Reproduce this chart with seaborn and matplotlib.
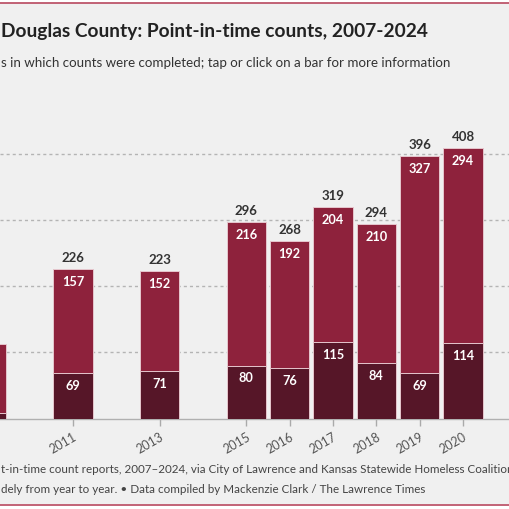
import matplotlib
matplotlib.use("Agg")
import matplotlib.pyplot as plt
import seaborn as sns
import pandas as pd
from matplotlib.patches import Rectangle
from matplotlib.lines import Line2D

# ---- data ----
years = [2009, 2011, 2013, 2015, 2016, 2017, 2018, 2019, 2020]
lower_counts = [8, 69, 71, 80, 76, 115, 84, 69, 114]
upper_counts = [104, 157, 152, 216, 192, 204, 210, 327, 294]
totals = [a + b for a, b in zip(lower_counts, upper_counts)]
tick_years = years

title_text = "Douglas County: Point-in-time counts, 2007-2024"
subtitle_text = "s in which counts were completed; tap or click on a bar for more information"
footer1 = "t-in-time count reports, 2007\u20132024, via City of Lawrence and Kansas Statewide Homeless Coalition"
footer2 = "dely from year to year. \u2022 Data compiled by Mackenzie Clark / The Lawrence Times"

df = pd.DataFrame({"year": years, "lower": lower_counts, "upper": upper_counts, "total": totals})

sns.set_theme(style="white")
FONT = ["Lato", "DejaVu Sans"]
plt.rcParams["font.family"] = FONT

W = H = 510
fig = plt.figure(figsize=(5.1, 5.1), dpi=100)
fig.patch.set_facecolor("white")

BG = "#f0f0f0"
UPPER = "#8e223c"
LOWER = "#561628"
EDGE = "#e6c6cd"
BORDER = "#b8485f"

# background panel and border lines
fig.patches.append(Rectangle((0, 1 - 505 / H), 1, (505 - 4) / H, transform=fig.transFigure,
                             facecolor=BG, edgecolor="none", zorder=-5))
fig.lines.append(Line2D([0, 1], [1 - 4 / H, 1 - 4 / H], transform=fig.transFigure, color=BORDER, lw=1.2, zorder=-4))
fig.lines.append(Line2D([0, 1], [1 - 505.5 / H, 1 - 505.5 / H], transform=fig.transFigure, color=BORDER, lw=1.2, zorder=-4))

# axes geometry (pixels)
px_per_year = 43.33
x0 = 2011 - 73 / px_per_year
x1 = x0 + W / px_per_year
base_y = 419.5
top_y = 120
px_per_unit = 0.6625
ax = fig.add_axes([0, 1 - base_y / H, 1, (base_y - top_y) / H])
ax.set_zorder(2)
ax.set_facecolor("none")

sns.barplot(data=df, x="year", y="total", native_scale=True, width=0.91, color=UPPER,
            saturation=1, edgecolor=EDGE, linewidth=0.7, ax=ax, zorder=3)
sns.barplot(data=df, x="year", y="lower", native_scale=True, width=0.91, color=LOWER,
            saturation=1, edgecolor=EDGE, linewidth=0.7, ax=ax, zorder=4)

for yv in [100, 200, 300, 400]:
    ax.axhline(yv, color="#b4b4b4", lw=1, linestyle=(0, (2.2, 2.2)), zorder=1)

for s in ["top", "right", "left"]:
    ax.spines[s].set_visible(False)
ax.spines["bottom"].set_color("#b0b0b0")
ax.spines["bottom"].set_linewidth(1)
ax.set_yticks([])
ax.set_xticks(tick_years, labels=[str(y) for y in tick_years], rotation=30,
              ha="right", va="top", rotation_mode="anchor")
ax.tick_params(axis="x", length=5, width=1, color="#aaaaaa", pad=3, bottom=True,
               labelsize=9, labelcolor="#555555")
ax.set_xlabel("")
ax.set_ylabel("")
# limits last (set_xticks may widen them)
ax.set_xlim(x0, x1)
ax.set_ylim(0, (base_y - top_y) / px_per_unit)

off = 12 / px_per_unit
for yr, lo, up, tot in zip(years, lower_counts, upper_counts, totals):
    if yr < x0 + 0.5:
        continue
    ax.text(yr, tot + off, str(tot), ha="center", va="center", fontsize=9.5,
            fontweight="bold", color="#333333", zorder=5)
    ax.text(yr, tot - off, str(up), ha="center", va="center", fontsize=9.2,
            fontweight="bold", color="white", zorder=5)
    ax.text(yr, lo - off, str(lo), ha="center", va="center", fontsize=9.2,
            fontweight="bold", color="white", zorder=5)

def ftext(x, y, s, **kw):
    fig.text(x / W, 1 - y / H, s, **kw)

ftext(1, 31, title_text, fontsize=13.75, fontweight="bold", color="#222222", va="center", ha="left")
ftext(1, 63, subtitle_text, fontsize=9.6, color="#333333", va="center", ha="left")
ftext(1, 470, footer1, fontsize=8.4, color="#444444", va="center", ha="left")
ftext(1, 490, footer2, fontsize=8.4, color="#444444", va="center", ha="left")

fig.savefig("out.png", dpi=100, facecolor=fig.get_facecolor())
